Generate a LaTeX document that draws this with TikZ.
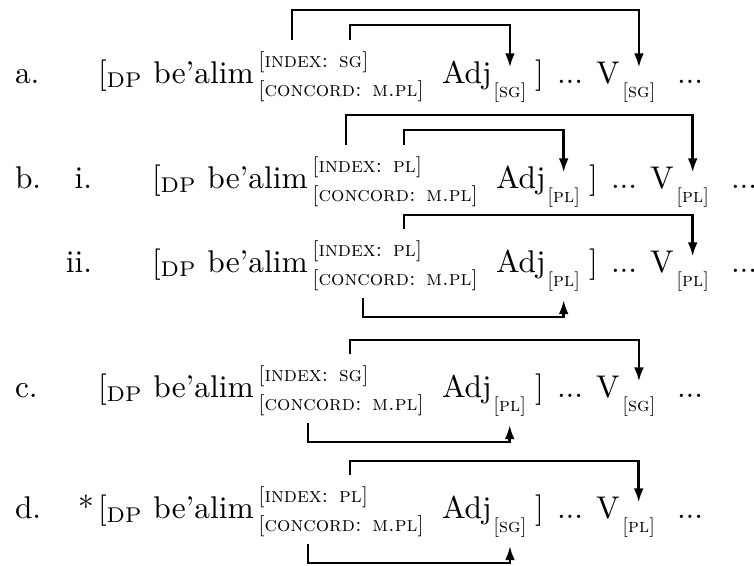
\documentclass[tikz,border=0pt]{standalone}
\usetikzlibrary{arrows.meta}
\tikzset{
  txt/.style={anchor=base west, inner sep=0pt, outer sep=0pt, font=\fontsize{10.3}{12}\selectfont},
  feat/.style={anchor=base west, inner sep=0pt, outer sep=0pt, font=\fontsize{6.9}{8}\selectfont\scshape},
  subf/.style={anchor=base west, inner sep=0pt, outer sep=0pt, font=\fontsize{6.4}{7}\selectfont\scshape},
  arr/.style={-{Latex[length=4.6pt,width=3.2pt]}, line width=0.8pt},
}
% #1 name, #2 x offset, #3 baseline, #4 index, #5 adj value, #6 V value
\newcommand\exrow[6]{%
  \node[txt] (#1-dp) at (98+#2,#3) {[$_{\mathrm{DP}}$ be'alim};
  \node[feat] (#1-idx) at (258+#2,#3-16) {[index: #4]};
  \node[feat] (#1-cc) at (258+#2,#3+13) {[concord: m.pl]};
  \node[txt] (#1-adj) at (442+#2,#3) {Adj};
  \node[subf] (#1-as) at (493+#2,#3+14) {[#5]};
  \node[txt] (#1-rb) at (535+#2,#3) {]};
  \node[txt] (#1-d1) at (557+#2,#3) {...};
  \node[txt] (#1-v) at (596+#2,#3) {V};
  \node[subf] (#1-vs) at (622+#2,#3+14) {[#6]};
  \node[txt] (#1-d2) at (677+#2,#3) {...};
}
\begin{document}
\begin{tikzpicture}[x=0.328pt,y=-0.328pt]
\useasboundingbox (0,0) rectangle (754,565);

% a.
\node[txt] (la) at (15,83) {a.};
\exrow{a}{0}{83}{sg}{sg}{sg}
\coordinate (a-s1) at (292,40);
\coordinate (a-s2) at (350,40);
\draw[arr] (a-s1) -- ++(0,-30) -| ([yshift=4.9pt]a-vs.north);
\draw[arr] (a-s2) -- ++(0,-15) -| ([yshift=4.9pt]a-as.north);

% b. i.
\node[txt] (lb) at (15,188) {b.};
\node[txt,anchor=base east] (lbi) at (92,188) {i.};
\exrow{bi}{54}{188}{pl}{pl}{pl}
\coordinate (bi-s1) at (346,145);
\coordinate (bi-s2) at (404,145);
\draw[arr] (bi-s1) -- ++(0,-30) -| ([yshift=4.9pt]bi-vs.north);
\draw[arr] (bi-s2) -- ++(0,-15) -| ([yshift=4.9pt]bi-as.north);

% b. ii.
\node[txt,anchor=base east] (lbii) at (92,272) {ii.};
\exrow{bii}{54}{272}{pl}{pl}{pl}
\coordinate (bii-s1) at (404,229);
\coordinate (bii-s2) at (363,298);
\draw[arr] (bii-s1) -- ++(0,-14) -| ([yshift=4.9pt]bii-vs.north);
\draw[arr] (bii-s2) -- ++(0,19) -| ([yshift=-3pt]bii-as.south);

% c.
\node[txt] (lc) at (15,397) {c.};
\exrow{c}{0}{397}{sg}{pl}{sg}
\coordinate (c-s1) at (350,354);
\coordinate (c-s2) at (308,423);
\draw[arr] (c-s1) -- ++(0,-14) -| ([yshift=4.9pt]c-vs.north);
\draw[arr] (c-s2) -- ++(0,19) -| ([yshift=-3pt]c-as.south);

% d.
\node[txt] (ld) at (15,518) {d.};
\node[txt] (ast) at (78,518) {*};
\exrow{d}{0}{518}{pl}{sg}{pl}
\coordinate (d-s1) at (350,475);
\coordinate (d-s2) at (308,544);
\draw[arr] (d-s1) -- ++(0,-14) -| ([yshift=4.9pt]d-vs.north);
\draw[arr] (d-s2) -- ++(0,19) -| ([yshift=-3pt]d-as.south);
\end{tikzpicture}
\end{document}
